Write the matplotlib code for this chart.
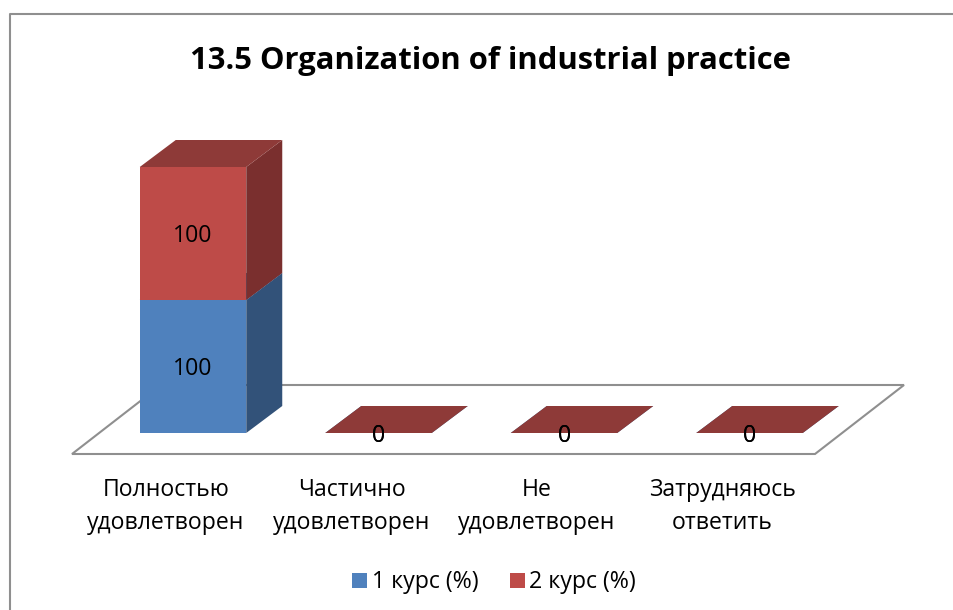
import matplotlib
matplotlib.use("Agg")
import matplotlib.pyplot as plt
from matplotlib.patches import Polygon, Patch
from matplotlib.lines import Line2D

categories = ["Полностью\nудовлетворен", "Частично\nудовлетворен", "Не\nудовлетворен", "Затрудняюсь\nответить"]
series_names = ["1 курс (%)", "2 курс (%)"]
course_1 = [100, 0, 0, 0]
course_2 = [100, 0, 0, 0]
title = "13.5 Organization of industrial practice"

W, H = 954, 610
FONT = "Open Sans"
plt.rcParams["font.family"] = [FONT, "DejaVu Sans"]

# pixel calibration of the value and category scales
x0_px, x_step = 193.0, 185.5
y0_px, y_per_unit = 433.0, 1.33
bar_w = 106.5 / x_step
dx = 36 / x_step
dy = 27 / y_per_unit
label_shift = -27 / x_step

fig = plt.figure(figsize=(W / 100, H / 100), dpi=100, facecolor="white")
ax = fig.add_axes([0, 0, 1, 1])
ax.set_xlim(-x0_px / x_step, (W - x0_px) / x_step)
ax.set_ylim((y0_px - H) / y_per_unit, y0_px / y_per_unit)
ax.axis("off")

GREY = "#8f8f8f"
# chart frame
fig.add_artist(Line2D([10 / W, 10 / W, 1], [0, 1 - 14 / H, 1 - 14 / H], color=GREY, lw=1.5))

# floor
fl, fr = (72 - x0_px) / x_step, (815 - x0_px) / x_step
fd = 89 / x_step
fy0, fy1 = (y0_px - 454) / y_per_unit, (y0_px - 385) / y_per_unit
ax.add_patch(Polygon([(fl, fy0), (fr, fy0), (fr + fd, fy1), (fl + fd, fy1)], closed=True,
                     fc="white", ec=GREY, lw=1.5, zorder=1))

colors = {
    0: dict(front="#4F81BD", side="#325279", top="#3F6897"),
    1: dict(front="#BE4B48", side="#7A2F2E", top="#8E3A38"),
}

bottom = [0] * len(categories)
for s, vals in enumerate([course_1, course_2]):
    c = colors[s]
    for i, v in enumerate(vals):
        b = bottom[i]
        l, r = i - bar_w / 2, i + bar_w / 2
        if v > 0:
            ax.bar(i, v, bar_w, bottom=b, color=c["front"], zorder=3 + s)
            ax.add_patch(Polygon([(r, b), (r + dx, b + dy), (r + dx, b + v + dy), (r, b + v)],
                                 closed=True, fc=c["side"], ec="none", zorder=3 + s))
        t = b + v
        ax.add_patch(Polygon([(l, t), (r, t), (r + dx, t + dy), (l + dx, t + dy)],
                             closed=True, fc=c["top"], ec="none", zorder=3 + s))
        ax.text(i, b + v / 2 - 2.2 if v else b - 2.2, str(v), ha="center", va="center",
                fontsize=16.7, color="black", zorder=8)
    bottom = [b + v for b, v in zip(bottom, vals)]

# category labels
label_y = (y0_px - 506.5) / y_per_unit
for i, cat in enumerate(categories):
    ax.text(i + label_shift, label_y, cat, ha="center", va="center", fontsize=16.6,
            linespacing=1.55, color="black")

# title
ax.text((490.5 - x0_px) / x_step, (y0_px - 60.5) / y_per_unit, title, ha="center", va="center",
        fontsize=22.3, fontweight="bold", color="black")

# legend
handles = [Patch(fc=colors[0]["front"]), Patch(fc=colors[1]["front"])]
ax.legend(handles, series_names, loc="center", bbox_to_anchor=(494 / W, 1 - 582.5 / H),
          ncol=2, frameon=False, fontsize=16.7, handlelength=0.65, handleheight=0.65,
          handletextpad=0.2, columnspacing=1.35, borderpad=0)

fig.savefig("out.png", dpi=100)
